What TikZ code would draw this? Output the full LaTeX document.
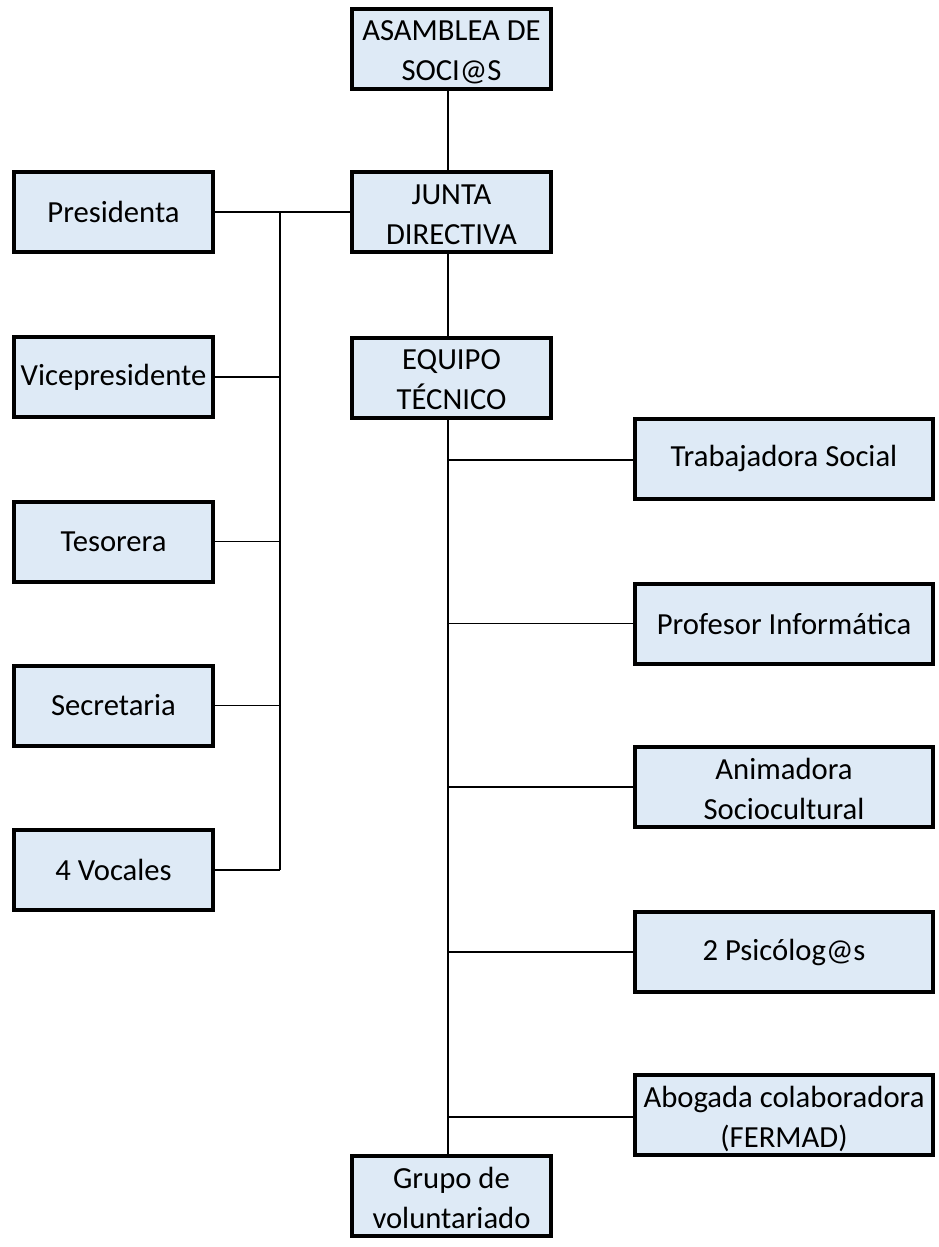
\documentclass[tikz,border=0pt]{standalone}
\usepackage{fontspec}
\setmainfont{Carlito}
\definecolor{boxfill}{HTML}{DEEAF6}
\newcommand\duo[2]{\begin{tabular}[t]{@{}c@{}}#1\\#2\end{tabular}}
\begin{document}
\begin{tikzpicture}[x=0.75pt,y=-0.75pt,
  box/.style={draw=black, line width=3pt, fill=boxfill, align=center, inner sep=0pt,
    font=\fontsize{23}{30}\selectfont, minimum height=60pt},
  lbox/.style={box, minimum width=149.25pt},
  cbox/.style={box, minimum width=149.25pt},
  rbox/.style={box, minimum width=223.5pt},
  duobox/.style={text height=24pt, text depth=36pt},
  conn/.style={draw=black, line width=1.4pt}]
\useasboundingbox (0,0) rectangle (939,1247);
% coordinates
\coordinate (ltop) at (280,212);
\coordinate (lbot) at (280,870);
\coordinate (ctop) at (448,418);
\coordinate (cbot) at (448,1155);
% connectors (drawn first, under boxes)
\draw[conn] (448,89) -- (448,170);
\draw[conn] (448,254) -- (448,337);
\draw[conn] (ctop) -- (cbot);
\draw[conn] (ltop) -- (lbot);
% centre column
\node[cbox, duobox] (asam) at (451.5,48.5) {\duo{ASAMBLEA DE}{SOCI@S}};
\node[cbox, duobox] (junta) at (451.5,212) {\duo{JUNTA}{DIRECTIVA}};
\node[cbox, duobox] (equipo) at (451.5,377.5) {\duo{EQUIPO}{TÉCNICO}};
\node[cbox, duobox] (grupo) at (451.5,1196) {\duo{Grupo de}{voluntariado}};
% left column
\node[lbox] (pres) at (113.5,212) {Presidenta};
\node[lbox] (vice) at (113.5,377) {Vicepresidente};
\node[lbox] (teso) at (113.5,541.5) {Tesorera};
\node[lbox] (secr) at (113.5,705.5) {Secretaria};
\node[lbox] (voca) at (113.5,870) {4 Vocales};
% right column
\node[rbox] (trab) at (784,458.5) {Trabajadora Social};
\node[rbox] (prof) at (784,623.5) {Profesor Informática};
\node[rbox, duobox] (anim) at (784,787) {\duo{Animadora}{Sociocultural}};
\node[rbox] (psic) at (784,952) {2 Psicólog@s};
\node[rbox, duobox] (abog) at (784,1115) {\duo{Abogada colaboradora}{(FERMAD)}};
% connectors
\draw[conn] (pres.east) -- (junta.west);
\draw[conn] (vice.east) -- (vice.east -| ltop);
\draw[conn] (teso.east) -- (teso.east -| ltop);
\draw[conn] (secr.east) -- (secr.east -| ltop);
\draw[conn] (voca.east) -- (lbot);
\draw[conn] (trab.west |- 0,460) -- (ctop |- 0,460);
\draw[conn] (prof.west) -- (prof.west -| ctop);
\draw[conn] (anim.west) -- (anim.west -| ctop);
\draw[conn] (psic.west) -- (psic.west -| ctop);
\draw[conn] (abog.west |- 0,1117) -- (ctop |- 0,1117);
\end{tikzpicture}
\end{document}
